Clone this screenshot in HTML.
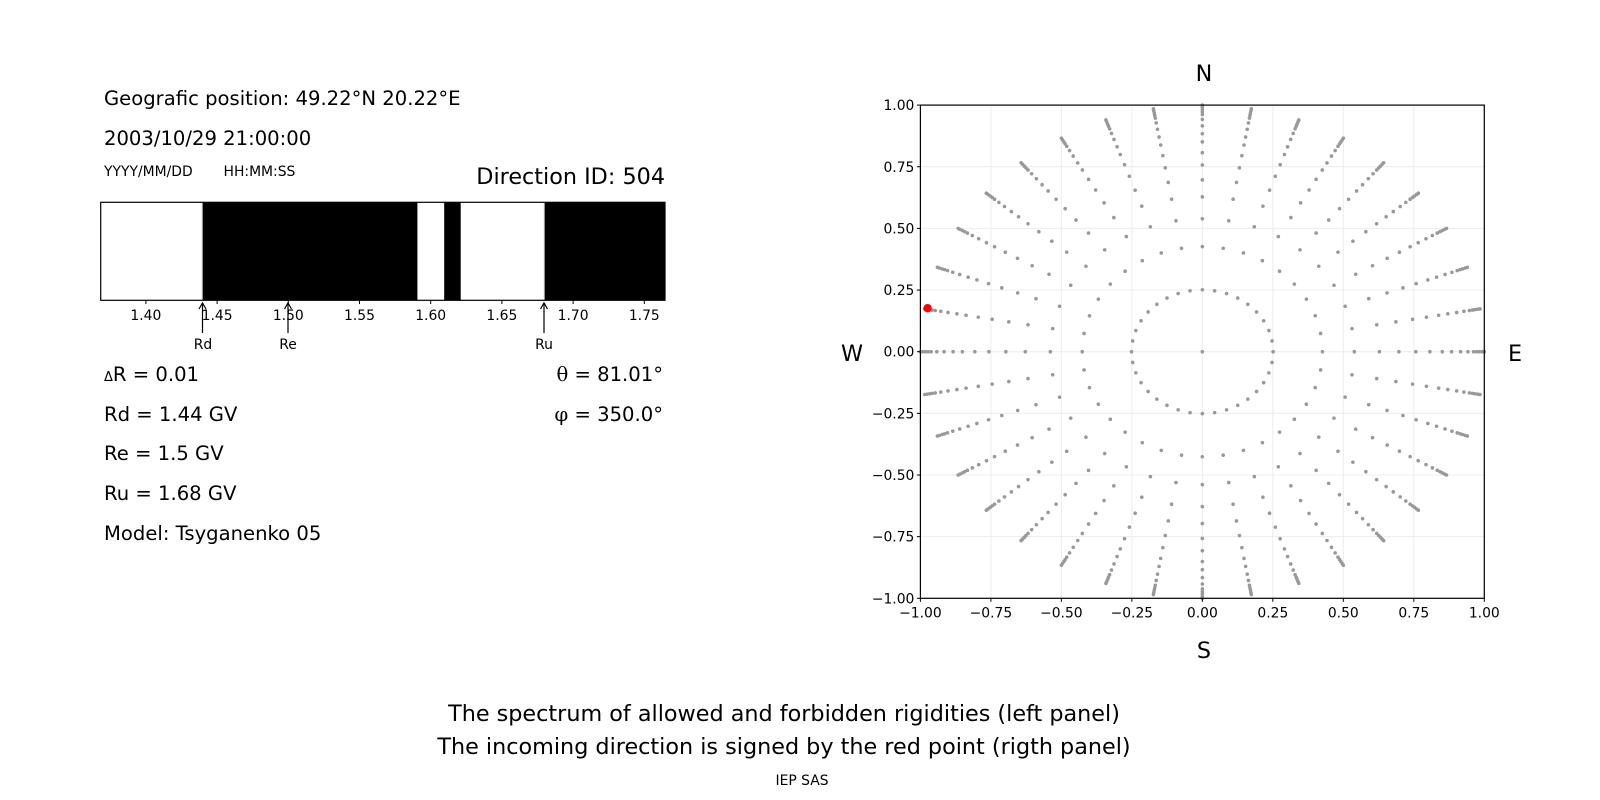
<!DOCTYPE html>
<html><head><meta charset="utf-8"><style>
body{margin:0;background:#fff;}
svg{display:block;font-family:"DejaVu Sans","Liberation Sans",sans-serif;}
</style></head><body>
<svg id="s" width="1600" height="800" viewBox="0 0 1600 800" xmlns="http://www.w3.org/2000/svg">
<rect width="1600" height="800" fill="#fff"/>
<g font-size="19.6" fill="#000">
<text x="104" y="105">Geografic position: 49.22°N 20.22°E</text>
<text x="104" y="145">2003/10/29 21:00:00</text>
<text x="104" y="381"><tspan font-size="13">Δ</tspan>R = 0.01</text>
<text x="104" y="421">Rd = 1.44 GV</text>
<text x="104" y="460">Re = 1.5 GV</text>
<text x="104" y="500">Ru = 1.68 GV</text>
<text x="104" y="540">Model: Tsyganenko 05</text>
<text x="663" y="381" text-anchor="end"><tspan font-family="DejaVu Serif,serif">θ</tspan> = 81.01°</text>
<text x="663" y="421" text-anchor="end"><tspan font-family="DejaVu Serif,serif">φ</tspan> = 350.0°</text>
</g>
<text x="104" y="176" font-size="13.9">YYYY/MM/DD</text>
<text x="223.5" y="176" font-size="13.9">HH:MM:SS</text>
<text x="665" y="184" font-size="22.3" text-anchor="end">Direction ID: 504</text>
<rect x="202.1" y="202.3" width="215.3" height="98" fill="#000"/>
<rect x="444.2" y="202.3" width="16.5" height="98" fill="#000"/>
<rect x="544.1" y="202.3" width="120.9" height="98" fill="#000"/>
<line x1="202.3" y1="202.3" x2="202.3" y2="300.3" stroke="#bbb" stroke-width="1"/>
<line x1="544.3" y1="202.3" x2="544.3" y2="300.3" stroke="#bbb" stroke-width="1"/>
<rect x="100.7" y="202.3" width="564.3" height="98" fill="none" stroke="#000" stroke-width="1.2"/>
<g id="bt" font-size="13.9" text-anchor="middle"></g>
<g stroke="#000" stroke-width="1.2" fill="none">
<line x1="202.5" y1="303" x2="202.5" y2="333"/><path d="M199 309 L202.5 303 L206 309"/>
<line x1="288" y1="303" x2="288" y2="333"/><path d="M284.5 309 L288 303 L291.5 309"/>
<line x1="544" y1="303" x2="544" y2="333"/><path d="M540.5 309 L544 303 L547.5 309"/>
</g>
<g font-size="13.9" text-anchor="middle">
<text x="203" y="349">Rd</text><text x="288" y="349">Re</text><text x="544" y="349">Ru</text>
</g>
<g id="grid" stroke="#ececec" stroke-width="1"></g>
<g id="dots" fill="#999"></g>
<rect x="920.4" y="105.1" width="563.9" height="493.2" fill="none" stroke="#000" stroke-width="1.2"/>
<g id="ticks" font-size="13.9"></g>
<g font-size="22.3" text-anchor="middle">
<text x="1204" y="81">N</text><text x="1204" y="658">S</text>
<text x="852" y="361">W</text><text x="1515" y="361">E</text>
</g>
<g font-size="22.3" text-anchor="middle">
<text x="784" y="721">The spectrum of allowed and forbidden rigidities (left panel)</text>
<text x="784" y="754">The incoming direction is signed by the red point (rigth panel)</text>
</g>
<text x="802" y="785" font-size="13.9" text-anchor="middle">IEP SAS</text>
</svg>
<script>
var NS="http://www.w3.org/2000/svg";
function el(p,t,a,txt){var e=document.createElementNS(NS,t);for(var k in a)e.setAttribute(k,a[k]);if(txt!=null)e.textContent=txt;document.getElementById(p).appendChild(e);return e;}
for(var i=0;i<8;i++){var v=1.40+i*0.05;var x=145.9+(v-1.40)*1424;
el("bt","line",{x1:x,y1:300.3,x2:x,y2:304,stroke:"#000","stroke-width":1});
el("bt","text",{x:x,y:320},v.toFixed(2));}
var L=920.4,T=105.1,W=563.9,H=493.2,cx=L+W/2,cy=T+H/2,sx=W/2,sy=H/2;
for(var i=0;i<9;i++){var v=-1+i*0.25;var x=cx+v*sx,y=cy-v*sy;
el("grid","line",{x1:x,y1:T,x2:x,y2:T+H});el("grid","line",{x1:L,y1:y,x2:L+W,y2:y});
var lab=(v<0?"\u2212":"")+Math.abs(v).toFixed(2);
el("ticks","line",{x1:x,y1:T+H,x2:x,y2:T+H+3.5,stroke:"#000","stroke-width":1});
el("ticks","text",{x:x,y:T+H+19,"text-anchor":"middle"},lab);
el("ticks","line",{x1:L-3.5,y1:y,x2:L,y2:y,stroke:"#000","stroke-width":1});
el("ticks","text",{x:L-6,y:y+5,"text-anchor":"end"},lab);}
var R=[1.0,0.992,0.982,0.973,0.962,0.942,0.916,0.884,0.851,0.807,0.757,0.697,0.628,0.539,0.426,0.251];
for(var a=0;a<36;a++){var t=a*Math.PI/18;
for(var j=0;j<R.length;j++){var r=R[j];el("dots","circle",{cx:cx+r*Math.sin(t)*sx,cy:cy-r*Math.cos(t)*sy,r:1.8});}}
el("dots","circle",{cx:cx,cy:cy,r:1.8});
el("dots","circle",{cx:927.6,cy:308.2,r:4.2,fill:"red"});
</script>
</body></html>
